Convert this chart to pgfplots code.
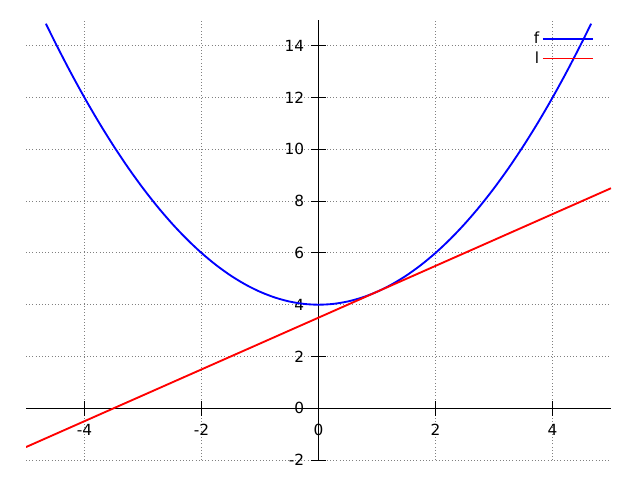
\documentclass[border=0pt]{standalone}
\usepackage{pgfplots}
\pgfplotsset{compat=1.18}
\usepackage{fontspec}
\setmainfont{DejaVu Sans}
\begin{document}
\begin{tikzpicture}
\fontsize{11.5}{13}\selectfont
\path[use as bounding box] (0,0) rectangle (480pt,360pt);
\begin{axis}[
  at={(19.5pt,15pt)}, anchor=south west,
  scale only axis, width=438.75pt, height=330pt,
  xmin=-5, xmax=5, ymin=-2, ymax=15,
  axis lines=middle,
  axis line style={-, black, line width=0.75pt},
  hide obscured x ticks=false, hide obscured y ticks=false,
  xtick={-4,-2,0,2,4}, ytick={-2,0,2,4,6,8,10,12,14},
  tick align=center, major tick length=11.5pt,
  tick style={black, line width=0.75pt},
  grid=major, grid style={gray, dotted, line width=0.75pt},
  /pgf/number format/assume math mode=true,
  ticklabel style={font=\fontsize{11.5}{13}\selectfont},
  xticklabel style={yshift=-2pt},
  yticklabel style={xshift=-1pt},
  clip=true,
  legend style={draw=none, fill=none, at={(0.978,0.985)}, anchor=north east,
    font=\fontsize{11.5}{13}\selectfont, row sep=0pt},
  legend cell align=right, legend plot pos=right,
  legend image code/.code={\draw[#1] (0cm,0cm) -- (1.32cm,0cm);},
]
\addplot[blue, line width=1.4pt, smooth] coordinates {
(-4.66,14.8578) (-4.5,14.125) (-4.25,13.03125) (-4,12) (-3.75,11.03125)
(-3.5,10.125) (-3.25,9.28125) (-3,8.5) (-2.75,7.78125) (-2.5,7.125)
(-2.25,6.53125) (-2,6) (-1.75,5.53125) (-1.5,5.125) (-1.25,4.78125)
(-1,4.5) (-0.75,4.28125) (-0.5,4.125) (-0.25,4.03125) (0,4)
(0.25,4.03125) (0.5,4.125) (0.75,4.28125) (1,4.5) (1.25,4.78125)
(1.5,5.125) (1.75,5.53125) (2,6) (2.25,6.53125) (2.5,7.125)
(2.75,7.78125) (3,8.5) (3.25,9.28125) (3.5,10.125) (3.75,11.03125)
(4,12) (4.25,13.03125) (4.5,14.125) (4.66,14.8578)
};
\addlegendentry{f}
\addplot[red, line width=1.4pt] coordinates {(-5,-1.5) (5,8.5)};
\addlegendentry{l}
\end{axis}
\end{tikzpicture}
\end{document}
